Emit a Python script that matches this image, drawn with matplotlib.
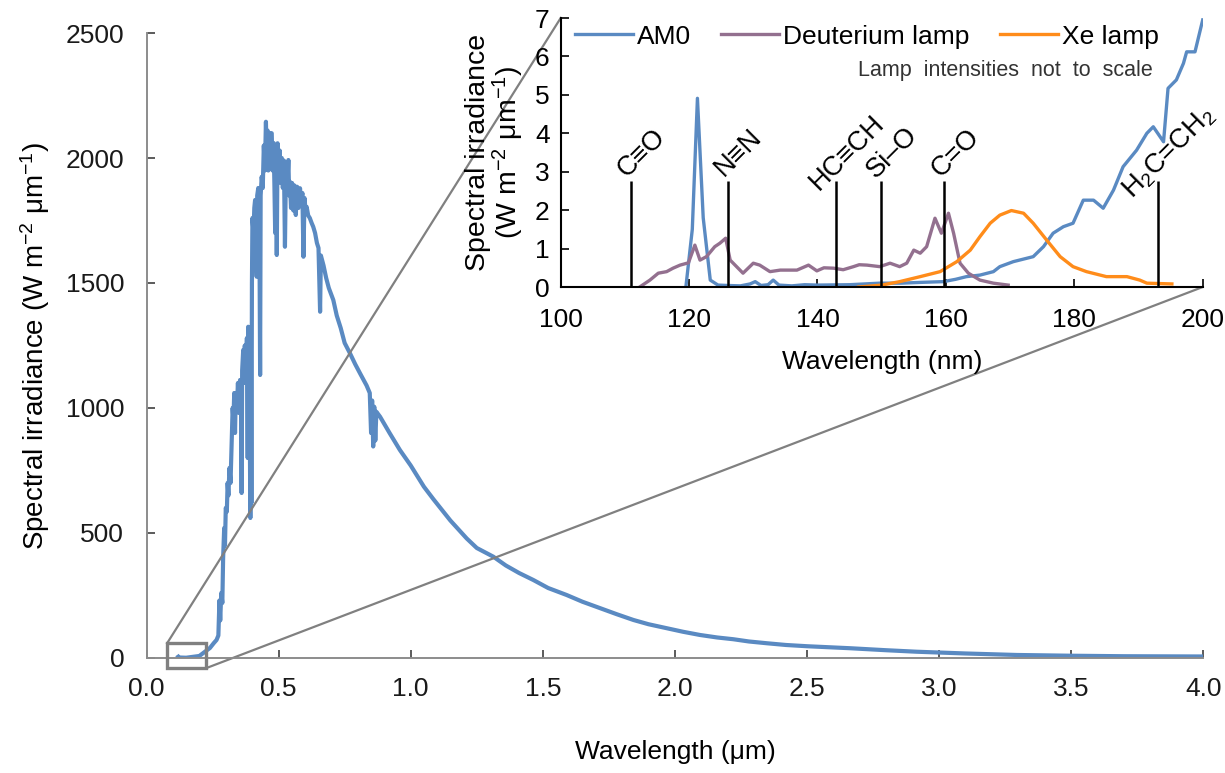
import numpy as np
import matplotlib.pyplot as plt
from matplotlib.patches import Rectangle
from matplotlib.ticker import FormatStrFormatter

plt.rcParams['font.family'] = ['Liberation Sans', 'DejaVu Sans']
plt.rcParams['mathtext.fontset'] = 'custom'
plt.rcParams['mathtext.rm'] = 'Liberation Sans'
plt.rcParams['mathtext.it'] = 'Liberation Sans:italic'
plt.rcParams['mathtext.bf'] = 'Liberation Sans:bold'

# AM0 spectrum, whole range (um, W m-2 um-1)
am0_um = [0.120, 0.122, 0.150, 0.200, 0.240, 0.255, 0.265, 0.272, 0.276, 0.279,
          0.283, 0.287, 0.290, 0.294, 0.297, 0.300, 0.304, 0.307, 0.310, 0.314,
          0.318, 0.322, 0.326, 0.329, 0.332, 0.335, 0.338, 0.342, 0.346, 0.350,
          0.354, 0.358, 0.360, 0.362, 0.366, 0.369, 0.372, 0.376, 0.380, 0.383,
          0.385, 0.389, 0.393, 0.395, 0.397, 0.399, 0.401, 0.405, 0.408, 0.411,
          0.414, 0.417, 0.419, 0.423, 0.427, 0.430, 0.432, 0.436, 0.440, 0.444,
          0.448, 0.452, 0.455, 0.458, 0.461, 0.464, 0.467, 0.470, 0.474, 0.477,
          0.481, 0.484, 0.487, 0.490, 0.493, 0.496, 0.500, 0.504, 0.508, 0.512,
          0.516, 0.520, 0.524, 0.528, 0.532, 0.537, 0.540, 0.543, 0.547, 0.551,
          0.556, 0.560, 0.565, 0.570, 0.575, 0.581, 0.586, 0.590, 0.594, 0.598,
          0.602, 0.606, 0.612, 0.618, 0.625, 0.631, 0.638, 0.645, 0.651, 0.657,
          0.660, 0.670, 0.680, 0.690, 0.707, 0.720, 0.735, 0.750, 0.770, 0.790,
          0.810, 0.833, 0.845, 0.850, 0.854, 0.858, 0.862, 0.866, 0.870, 0.884,
          0.920, 0.959, 1.000, 1.050, 1.086, 1.150, 1.212, 1.250, 1.313, 1.360,
          1.410, 1.464, 1.520, 1.590, 1.650, 1.717, 1.780, 1.843, 1.900, 1.969,
          2.030, 2.095, 2.160, 2.221, 2.280, 2.347, 2.420, 2.500, 2.663, 2.800,
          2.915, 3.100, 3.294, 3.500, 3.700, 4.000]
am0_E = [5, 2, 1, 8, 40, 60, 72, 90, 230, 150,
         260, 220, 400, 520, 450, 600, 585, 700, 650, 760,
         700, 850, 1000, 952, 1060, 900, 1059, 1000, 1100, 980,
         1112, 1000, 660, 1150, 1232, 1100, 1250, 1150, 1280, 800,
         1325, 1250, 560, 1300, 620, 1500, 1760, 1700, 1800, 1832,
         1650, 1525, 1850, 1880, 1800, 1132, 1850, 1925, 1880, 2050,
         1950, 2145, 2000, 2110, 1950, 2090, 1960, 2100, 2099, 1950,
         2060, 1900, 1700, 2050, 1612, 2059, 1950, 2030, 1900, 2000,
         1880, 1990, 1645, 1980, 1870, 1992, 1850, 1905, 1800, 1900,
         1790, 1890, 1772, 1885, 1800, 1879, 1820, 1860, 1605, 1840,
         1790, 1805, 1770, 1760, 1740, 1725, 1700, 1660, 1640, 1385,
         1610, 1570, 1520, 1480, 1432, 1370, 1320, 1260, 1219, 1175,
         1135, 1090, 1060, 900, 1030, 846, 1005, 870, 985, 965,
         900, 832, 770, 685, 635, 550, 478, 440, 405, 370,
         340, 312, 280, 252, 225, 199, 175, 152, 135, 119,
         105, 92, 82, 75, 66, 59, 52, 47, 39, 31,
         25, 18, 12, 9, 7, 6]

# inset: 100-200 nm
am0_nm = [119.5, 120.5, 121.3, 122.2, 123.3, 124.5, 126.0, 128.0, 129.5, 130.3,
          131.2, 132.3, 133.1, 134.0, 136.0, 138.0, 140.0, 145.0, 149.7, 153.0,
          156.0, 159.6, 161.5, 163.2, 165.3, 167.4, 168.4, 170.5, 173.6, 175.2,
          176.7, 178.3, 179.8, 181.4, 183.0, 184.5, 186.1, 187.6, 189.7, 191.3,
          192.3, 193.9, 194.6, 195.9, 197.0, 197.5, 198.8, 200.0]
am0_vuv = [0.0, 1.5, 4.91, 1.8, 0.18, 0.05, 0.04, 0.03, 0.08, 0.14,
           0.04, 0.06, 0.18, 0.05, 0.03, 0.06, 0.05, 0.06, 0.10, 0.10,
           0.12, 0.14, 0.20, 0.27, 0.31, 0.40, 0.53, 0.66, 0.79, 1.05,
           1.40, 1.57, 1.66, 2.26, 2.26, 2.05, 2.52, 3.13, 3.56, 4.00,
           4.17, 3.78, 5.17, 5.39, 5.82, 6.12, 6.12, 6.95]

d2_nm = [112.3, 113.9, 115.2, 116.5, 117.5, 118.6, 119.9, 120.9, 121.7, 122.7,
         124.0, 124.8, 125.7, 126.4, 127.4, 128.4, 130.0, 131.0, 132.6, 134.2,
         136.8, 138.6, 139.9, 141.0, 142.5, 144.0, 145.6, 146.5, 147.7, 149.7,
         151.3, 152.8, 153.9, 155.0, 156.0, 157.0, 158.3, 159.3, 160.4, 161.2,
         162.2, 163.5, 165.3, 167.4, 169.7]
d2_val = [0.0, 0.18, 0.36, 0.40, 0.49, 0.57, 0.63, 1.09, 0.70, 0.79,
          1.05, 1.14, 1.27, 0.70, 0.53, 0.36, 0.62, 0.57, 0.40, 0.44,
          0.44, 0.57, 0.42, 0.50, 0.49, 0.45, 0.53, 0.58, 0.57, 0.53,
          0.62, 0.53, 0.62, 0.96, 0.88, 1.05, 1.79, 1.40, 1.92, 1.40,
          0.62, 0.36, 0.18, 0.10, 0.05]

xe_nm = [146.4, 150.0, 152.8, 156.0, 159.1, 161.7, 163.8, 165.3, 166.9, 168.4,
         170.2, 172.1, 173.6, 175.7, 177.8, 179.8, 181.9, 185.0, 188.2, 190.2,
         191.3, 195.2]
xe_val = [0.0, 0.05, 0.14, 0.27, 0.40, 0.66, 0.96, 1.31, 1.66, 1.87,
          1.99, 1.92, 1.66, 1.22, 0.79, 0.53, 0.40, 0.27, 0.27, 0.18,
          0.10, 0.08]

bond_labels = ['C≡O', 'N≡N', 'HC≡CH', 'Si–O', 'C=O', 'H$_2$C=CH$_2$']
bond_nm = [110.9, 126.0, 142.9, 149.9, 159.75, 193.0]
bond_height = 2.75

# zoom box drawn on the main chart (um, W m-2 um-1)
box_x = (0.078, 0.225)
box_y = (-41, 59)

blue = '#5a8ac2'
purple = '#93708f'
orange = '#ff8c1a'
grey = '#808080'

fig = plt.figure(figsize=(12.25, 7.73), dpi=100)

# main chart
ax = fig.add_axes([0.1196, 0.1488, 0.8627, 0.8085])
ax.plot(am0_um, am0_E, color=blue, lw=3.0)
ax.set_xlim(0, 4)
ax.set_ylim(0, 2500)
ax.set_xticks(np.arange(0, 4.01, 0.5))
ax.set_yticks(np.arange(0, 2501, 500))
ax.xaxis.set_major_formatter(FormatStrFormatter('%.1f'))
for s in ['top', 'right']:
    ax.spines[s].set_visible(False)
for s in ['left', 'bottom']:
    ax.spines[s].set_color('#8c8c8c')
    ax.spines[s].set_linewidth(1.4)
ax.tick_params(direction='in', length=6, width=1.2, color='#404040',
               labelsize=19, colors='#1a1a1a')
ax.tick_params(axis='y', pad=16)
ax.tick_params(axis='x', pad=14)
ax.set_xlabel('Wavelength (μm)', fontsize=19, labelpad=28)
ax.set_ylabel('Spectral irradiance (W m$^{-2}$ μm$^{-1}$)', fontsize=20, labelpad=10)

ax.add_patch(Rectangle((box_x[0], box_y[0]), box_x[1] - box_x[0], box_y[1] - box_y[0],
                       fill=False, ec=grey, lw=2.4, clip_on=False, zorder=5))

# inset
axin = fig.add_axes([0.4577, 0.6287, 0.5241, 0.348])
axin.patch.set_alpha(0)
l1, = axin.plot(am0_nm, am0_vuv, color=blue, lw=2.4, label='AM0')
l2, = axin.plot(d2_nm, d2_val, color=purple, lw=2.4, label='Deuterium lamp')
l3, = axin.plot(xe_nm, xe_val, color=orange, lw=2.4, label='Xe lamp')
axin.vlines(bond_nm, 0, bond_height, color='black', lw=1.8)
for lab, x in zip(bond_labels, bond_nm):
    axin.text(x + 1.7, 3.49, lab, rotation=45, ha='center', va='center',
              fontsize=19.5)
axin.set_xlim(100, 200)
axin.set_ylim(0, 7)
axin.set_xticks(np.arange(100, 201, 20))
axin.set_yticks(np.arange(0, 8, 1))
for s in ['top', 'right']:
    axin.spines[s].set_visible(False)
for s in ['left', 'bottom']:
    axin.spines[s].set_color('black')
    axin.spines[s].set_linewidth(1.5)
axin.tick_params(direction='in', length=6, width=1.2, labelsize=19)
axin.tick_params(axis='x', pad=15)
axin.tick_params(axis='y', pad=8)
axin.set_xlabel('Wavelength (nm)', fontsize=19, labelpad=13)
axin.set_ylabel('Spectral irradiance\n(W m$^{-2}$ μm$^{-1}$)', fontsize=20.5,
                labelpad=6, linespacing=1.0)
axin.legend(handles=[l1, l2, l3], loc='center left', bbox_to_anchor=(0.0223, 0.9305),
            ncol=3, frameon=False, fontsize=19, handlelength=2.2,
            handletextpad=0.15, columnspacing=1.14, borderpad=0, borderaxespad=0)
axin.text(0.9226, 0.8067, 'Lamp  intensities  not  to  scale', transform=axin.transAxes,
          ha='right', va='center', fontsize=15.5, color='#333333')

# connector lines: box corners -> inset corners, in main-axes data coords
to_main = ax.transData.inverted()
tl = to_main.transform(axin.transAxes.transform((0, 1)))
br = to_main.transform(axin.transAxes.transform((1, 0)))
ax.plot([box_x[0], tl[0]], [box_y[1], tl[1]], color=grey, lw=1.6, clip_on=False)
ax.plot([box_x[1], br[0]], [box_y[0], br[1]], color=grey, lw=1.6, clip_on=False)

fig.savefig('out.png', dpi=100)
